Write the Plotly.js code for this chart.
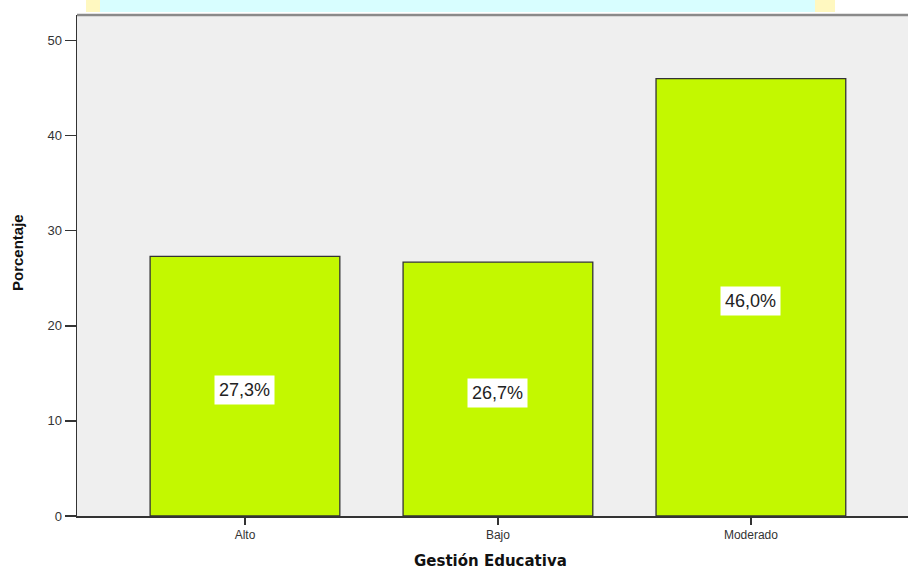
<!DOCTYPE html>
<html>
<head>
<meta charset="utf-8">
<script src="https://cdn.plot.ly/plotly-3.0.1.min.js"></script>
<style>html,body{margin:0;padding:0;background:#fff;}#chart{width:908px;height:572px;}</style>
</head>
<body>
<div id="chart"></div>
<script>
const categories = ["Alto", "Bajo", "Moderado"];
const percentages = [27.3, 26.7, 46.0];
const labels = ["27,3%", "26,7%", "46,0%"];
const yTicks = [0, 10, 20, 30, 40, 50];
const xTitle = "Gestión Educativa";
const yTitle = "Porcentaje";

const trace = {
  type: "bar",
  x: categories,
  y: percentages,
  width: 0.75,
  marker: {color: "#C3F800", line: {color: "#333333", width: 1.3}},
  hoverinfo: "none"
};

const annotations = categories.map((c, i) => ({
  x: c, y: percentages[i] / 2, xref: "x", yref: "y", yshift: -4,
  text: labels[i], showarrow: false,
  bgcolor: "#ffffff", borderpad: 4,
  font: {family: "Liberation Sans, Arial, sans-serif", size: 18, color: "#222"}
}));
annotations.push({
  xref: "paper", yref: "paper", x: (18 - 77) / 831, y: (516 - 252) / 501,
  xanchor: "center", yanchor: "middle", textangle: -90, showarrow: false,
  text: yTitle,
  font: {family: "Liberation Sans, Arial, sans-serif", size: 15, color: "#111", weight: "bold"}
});
annotations.push({
  xref: "paper", yref: "paper", x: (490 - 77) / 831, y: (516 - 561) / 501,
  xanchor: "center", yanchor: "middle", showarrow: false,
  text: xTitle,
  font: {family: "DejaVu Sans, Verdana, sans-serif", size: 15, color: "#111", weight: "bold"}
});

const layout = {
  width: 908, height: 572,
  margin: {l: 77, r: 0, t: 15, b: 56, autoexpand: false},
  paper_bgcolor: "#ffffff",
  plot_bgcolor: "#EFEFEF",
  showlegend: false,
  bargap: 0,
  xaxis: {
    type: "category",
    range: [-0.664, 2.621],
    showline: true, linecolor: "#333", linewidth: 1.5,
    ticks: "outside", ticklen: 7, tickcolor: "#333", tickwidth: 1.3,
    showgrid: false, zeroline: false,
    tickfont: {family: "Liberation Sans, Arial, sans-serif", size: 12, color: "#333"}
  },
  yaxis: {
    range: [0, 52.7],
    tickvals: yTicks,
    showline: true, linecolor: "#333", linewidth: 1.5,
    ticks: "outside", ticklen: 11, tickcolor: "#333", tickwidth: 1.3,
    showgrid: false, zeroline: false,
    tickfont: {family: "Liberation Sans, Arial, sans-serif", size: 13, color: "#333"}
  },
  annotations: annotations,
  shapes: [
    {type: "rect", xref: "paper", yref: "paper", x0: (100-77)/831, x1: (815-77)/831, y0: 1 + 3/501, y1: 1 + 15/501,
      fillcolor: "#D8FEFF", line: {width: 0}, layer: "below"},
    {type: "rect", xref: "paper", yref: "paper", x0: (86-77)/831, x1: (100-77)/831, y0: 1 + 3/501, y1: 1 + 15/501,
      fillcolor: "#FFF8C0", line: {width: 0}, layer: "below"},
    {type: "rect", xref: "paper", yref: "paper", x0: (815-77)/831, x1: (835-77)/831, y0: 1 + 3/501, y1: 1 + 15/501,
      fillcolor: "#FFF8C0", line: {width: 0}, layer: "below"},
    {type: "line", xref: "paper", yref: "paper", x0: 0, x1: 1, y0: 1, y1: 1,
      line: {color: "#8a8a8a", width: 2.5}}
  ]
};

Plotly.newPlot("chart", [trace], layout, {displayModeBar: false, staticPlot: true});
</script>
</body>
</html>
